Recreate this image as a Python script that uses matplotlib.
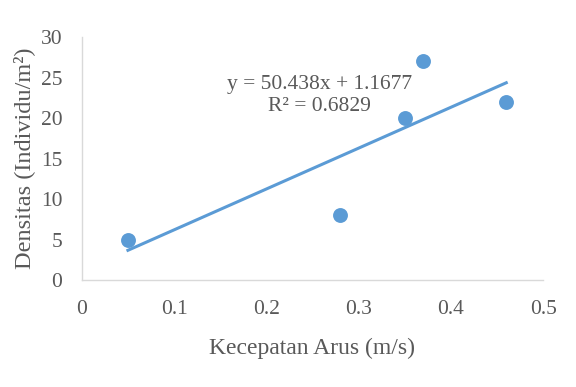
import numpy as np
import matplotlib
matplotlib.use('Agg')
import matplotlib.pyplot as plt

kecepatan = [0.05, 0.28, 0.35, 0.37, 0.46]
densitas = [5, 8, 20, 27, 22]
slope = 50.438
intercept = 1.1677
r2 = 0.6829

plt.rcParams['font.family'] = ['Liberation Serif', 'DejaVu Serif']
grey = '#595959'
blue = '#5B9BD5'

fig = plt.figure(figsize=(5.76, 3.87), dpi=100)
ax = fig.add_axes([0.142, 0.276, 0.801, 0.628])

ax.scatter(kecepatan, densitas, s=115, color=blue, zorder=3, linewidths=0)
xt = np.array([min(kecepatan), max(kecepatan)])
ax.plot(xt, slope * xt + intercept, color=blue, lw=2.2, zorder=2)

ax.text(0.258, 24.1, f'y = {slope}x + {intercept}', ha='center', va='center',
        fontsize=15.5, color=grey)
ax.text(0.258, 21.5, f'R² = {r2}', ha='center', va='center',
        fontsize=15.5, color=grey)

ax.set_xlim(0, 0.5)
ax.set_ylim(0, 30)
ax.set_xticks([0, 0.1, 0.2, 0.3, 0.4, 0.5])
ax.set_xticklabels(['0', '0.1', '0.2', '0.3', '0.4', '0.5'])
ax.set_yticks(range(0, 31, 5))
ax.tick_params(length=0, labelsize=15.5, colors=grey)
ax.tick_params(axis='x', pad=14)
ax.tick_params(axis='y', pad=14)

for side in ['top', 'right']:
    ax.spines[side].set_visible(False)
for side in ['left', 'bottom']:
    ax.spines[side].set_color('#d9d9d9')
    ax.spines[side].set_linewidth(1.0)

ax.set_xlabel('Kecepatan Arus (m/s)', fontsize=17, color=grey, labelpad=14)
ax.set_ylabel('Densitas (Individu/m²)', fontsize=17.5, color=grey, labelpad=4)

plt.savefig('out.png', dpi=100)
